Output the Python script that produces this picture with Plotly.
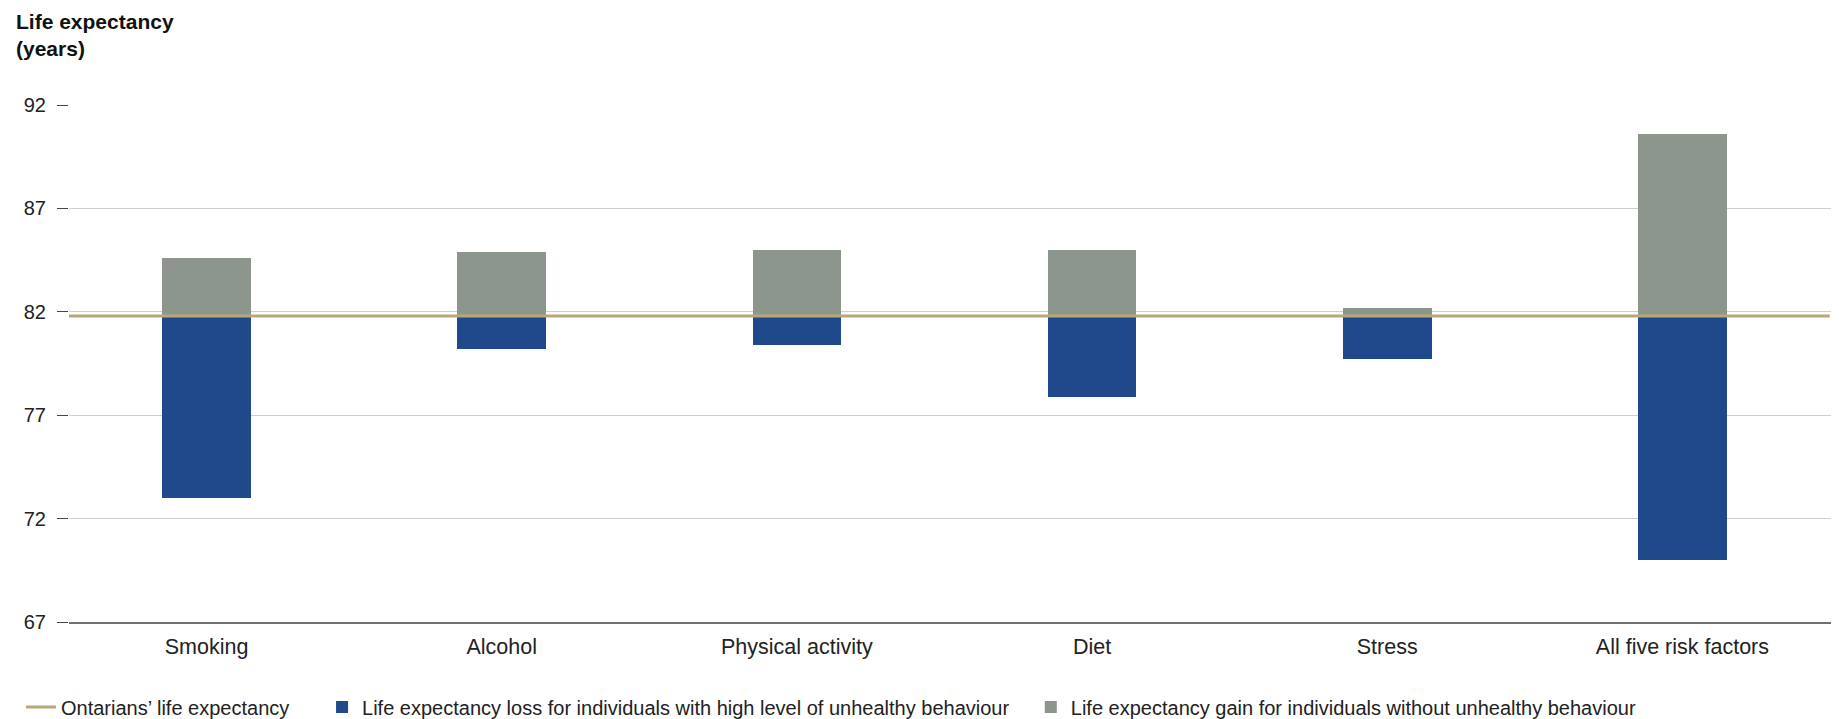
import plotly.graph_objects as go

categories = ["Smoking", "Alcohol", "Physical activity", "Diet", "Stress", "All five risk factors"]
ontario_life_expectancy = 81.8
loss_years = [8.8, 1.6, 1.4, 3.9, 2.1, 11.8]   # loss for high level of unhealthy behaviour
gain_years = [2.8, 3.1, 3.2, 3.2, 0.4, 8.8]    # gain without unhealthy behaviour
y_ticks = [67, 72, 77, 82, 87, 92]

BLUE = "#20498B"
GRAY = "#8D968C"
TAN = "#B9A779"
FONT = "Liberation Sans, Arial, Helvetica, sans-serif"
NBSP = "\u00a0"  # extra spacing between legend entries

# The page body has an 8px default margin, so the figure is 8px smaller than the window.
W, H = 1831, 711
ML, MR, MT, MB = 61, 4, 97, 97
PW = W - ML - MR
PH = H - MT - MB

fig = go.Figure()
fig.add_trace(go.Bar(
    x=categories, y=[-v for v in loss_years], base=ontario_life_expectancy,
    name="Life expectancy loss for individuals with high level of unhealthy behaviour" + NBSP * 3,
    marker=dict(color=BLUE, line=dict(width=0)), width=0.30, legendrank=2,
))
fig.add_trace(go.Bar(
    x=categories, y=gain_years, base=ontario_life_expectancy,
    name="Life expectancy gain for individuals without unhealthy behaviour",
    marker=dict(color=GRAY, line=dict(width=0)), width=0.30, legendrank=3,
))
fig.add_shape(
    type="line", xref="paper", x0=0, x1=0.997, yref="y",
    y0=ontario_life_expectancy, y1=ontario_life_expectancy,
    line=dict(color=TAN, width=3), layer="above",
    showlegend=True, name="Ontarians\u2019 life expectancy" + NBSP * 5, legendrank=1,
)

fig.add_annotation(
    text="<b>Life expectancy<br>(years)</b>",
    xref="paper", yref="paper",
    x=(6 - ML) / PW, xanchor="left",
    y=1 + MT / PH, yanchor="top",
    align="left", showarrow=False,
    font=dict(family=FONT, size=21, color="#111111"),
)

fig.update_layout(
    width=W, height=H,
    margin=dict(l=ML, r=MR, t=MT, b=MB),
    paper_bgcolor="white", plot_bgcolor="white",
    barmode="overlay",
    font=dict(family=FONT, size=20, color="#222222"),
    xaxis=dict(
        type="category", range=[-0.466, 5.517],
        showgrid=False, showline=True, linecolor="#707070", linewidth=2,
        ticks="", tickfont=dict(size=21.5, color="#222222"), ticklabelstandoff=4,
        fixedrange=True,
    ),
    yaxis=dict(
        range=[67, 92], tickvals=y_ticks, ticktext=[str(t) for t in y_ticks],
        showgrid=True, gridcolor="#CFCFCF", gridwidth=1,
        zeroline=False, showline=False,
        ticks="outside", ticklen=11, tickcolor="#444444", tickwidth=1,
        tickfont=dict(size=20, color="#222222"), ticklabelstandoff=7,
    ),
    legend=dict(
        orientation="h", xref="container", yref="container",
        x=13 / W, xanchor="left", y=12 / H, yanchor="middle",
        font=dict(size=20, color="#222222"), traceorder="normal",
        bgcolor="rgba(0,0,0,0)",
    ),
    bargap=0,
)

fig.write_html("out.html")
